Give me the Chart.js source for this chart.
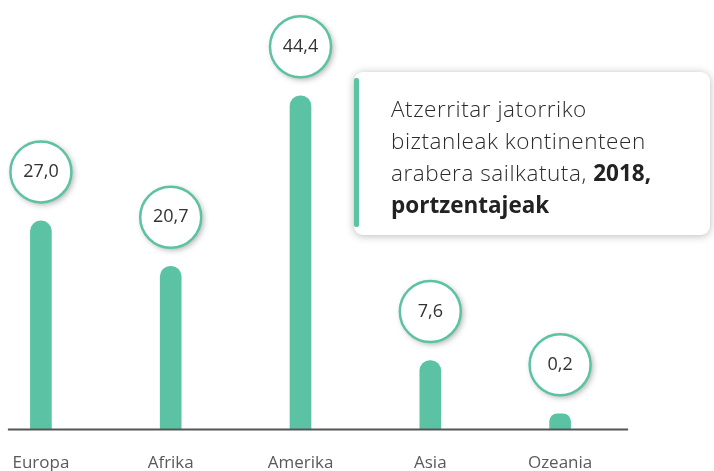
<!DOCTYPE html>
<html>
<head>
<meta charset="utf-8">
<script src="https://cdn.jsdelivr.net/npm/chart.js@4/dist/chart.umd.min.js"></script>
<style>
    html, body { margin: 0; padding: 0; background: #fff; overflow: hidden; }
    body { width: 714px; height: 471px; position: relative; font-family: "Open Sans", sans-serif; }
    /* canvas starts left of the window so the first category lands near the edge */
    #wrap { position: absolute; left: -40px; top: 0; width: 754px; height: 496px; }
    .title-box {
        position: absolute; left: 354px; top: 72px; width: 356px; height: 163px;
        background: #fff; border-radius: 9px;
        box-shadow: 0 1px 9px rgba(0, 0, 0, 0.28);
    }
    .title-box .accent {
        position: absolute; left: 0; top: 6px; width: 5px; height: 149px;
        background: #5bc3a3; border-radius: 2px;
    }
    .title-box p {
        position: absolute; left: 37px; top: 21px; margin: 0; white-space: nowrap;
        font-size: 22.5px; line-height: 32px; color: #2b2b2b; font-weight: 300;
        letter-spacing: 0.55px;
    }
    .title-box b { font-weight: 700; color: #222; letter-spacing: 0; }
</style>
</head>
<body>
<div id="wrap"><canvas id="chart"></canvas></div>
<div class="title-box">
    <div class="accent"></div>
    <p>Atzerritar jatorriko<br>biztanleak kontinenteen<br>arabera sailkatuta, <b>2018,</b><br><b>portzentajeak</b></p>
</div>
<script>
const categories = ["Europa", "Afrika", "Amerika", "Asia", "Ozeania"];
const values = [27.0, 20.7, 44.4, 7.6, 0.2];

const TEAL = "#5bc3a3";

function formatValue(value) {
    return value.toFixed(1).replace(".", ",");
}

// baseline and round value badges over each bar
const badgePlugin = {
    id: "badges",
    afterDatasetsDraw(chart) {
        const ctx = chart.ctx;
        const area = chart.chartArea;
        const bars = chart.getDatasetMeta(0).data;
        ctx.save();
        ctx.strokeStyle = "#555";
        ctx.lineWidth = 2;
        ctx.beginPath();
        ctx.moveTo(bars[0].x - 33, area.bottom);
        ctx.lineTo(bars[bars.length - 1].x + 68, area.bottom);
        ctx.stroke();

        bars.forEach((bar, i) => {
            const cx = bar.x;
            const cy = bar.y - 49;
            ctx.save();
            ctx.shadowColor = "rgba(0, 0, 0, 0.35)";
            ctx.shadowBlur = 6;
            ctx.shadowOffsetX = 2;
            ctx.shadowOffsetY = 2;
            ctx.beginPath();
            ctx.arc(cx, cy, 30.5, 0, Math.PI * 2);
            ctx.fillStyle = "#fff";
            ctx.fill();
            ctx.restore();
            ctx.beginPath();
            ctx.arc(cx, cy, 30.5, 0, Math.PI * 2);
            ctx.lineWidth = 2.5;
            ctx.strokeStyle = TEAL;
            ctx.stroke();
            ctx.fillStyle = "#333";
            ctx.font = "18px 'Open Sans', sans-serif";
            ctx.textAlign = "center";
            ctx.textBaseline = "middle";
            ctx.fillText(formatValue(values[i]), cx, cy);
        });
        ctx.restore();
    },
};

new Chart(document.getElementById("chart"), {
    type: "bar",
    data: {
        labels: categories,
        datasets: [
            {
                data: values,
                base: -2,
                backgroundColor: TEAL,
                barThickness: 21,
                borderRadius: { topLeft: 10.5, topRight: 10.5, bottomLeft: 0, bottomRight: 0 },
                borderSkipped: false,
            },
        ],
    },
    options: {
        responsive: true,
        maintainAspectRatio: false,
        animation: false,
        layout: { padding: { left: 16, right: 89, top: 0, bottom: 0 } },
        plugins: {
            legend: { display: false },
            tooltip: { enabled: false },
        },
        scales: {
            x: {
                offset: true,
                grid: { display: false, drawTicks: false },
                border: { display: false },
                ticks: {
                    padding: 23,
                    maxRotation: 0,
                    autoSkip: false,
                    color: "#5a5a5a",
                    font: { family: "'Open Sans', sans-serif", size: 17 },
                },
            },
            y: {
                display: false,
                min: -2,
                max: 57.7,
            },
        },
    },
    plugins: [badgePlugin],
});
</script>
</body>
</html>
